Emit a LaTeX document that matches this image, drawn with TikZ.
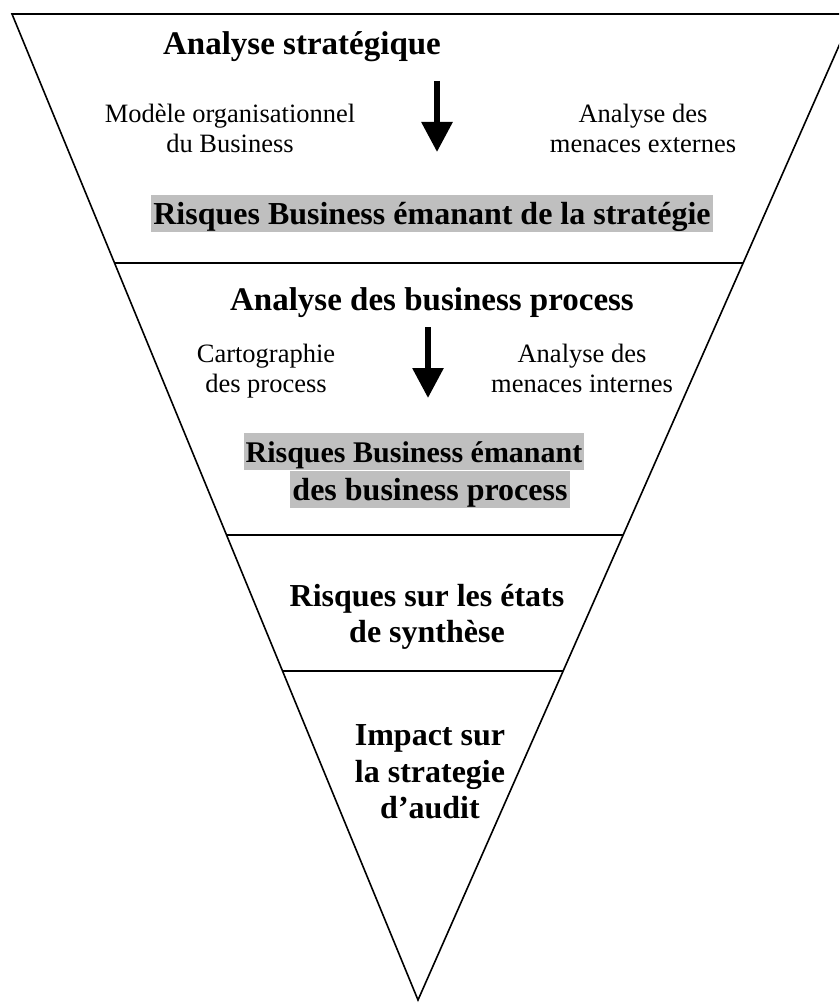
\documentclass[tikz,border=0pt]{standalone}
\usepackage{fontspec}
\setmainfont{Liberation Serif}
\usetikzlibrary{arrows.meta,calc}

\tikzset{
  titre/.style={font=\fontsize{32}{36.5}\selectfont\bfseries, align=center, inner sep=0pt},
  entete/.style={titre, font=\fontsize{33}{37.5}\selectfont\bfseries, anchor=base},
  texte/.style={font=\fontsize{26.5}{30}\selectfont, align=center, inner sep=0pt},
  surligne/.style={titre, fill=black!25, text height=28.5pt, text depth=7pt, inner xsep=2pt, inner ysep=0.8pt},
  trait/.style={line width=1.6pt},
  fleche/.style={line width=6pt, -{Triangle[width=30pt,length=30pt]}},
}

\begin{document}
\begin{tikzpicture}[x=1pt,y=-1pt]
    \useasboundingbox (0,0) rectangle (839,1003);
    \clip (0,0) rectangle (839,1003);
    % entonnoir
    \coordinate (hg) at (12,14);
    \coordinate (hd) at (853,14);
    \coordinate (pointe) at (418,1000);
    \draw[trait, line join=miter] (hg) -- (hd) -- (pointe) -- cycle;
    \foreach \y in {263,535,671}
        \draw[trait] ($(hg)!{(\y-14)/986}!(pointe)$) -- ($(hd)!{(\y-14)/986}!(pointe)$);
    % niveau 1
    \node[entete] (strat) at (302,55) {Analyse stratégique};
    \node[texte] (modele) at (230,128) {Modèle organisationnel\\du Business};
    \node[texte] (menext) at (643,128) {Analyse des\\menaces externes};
    \draw[fleche] (437,81) -- (437,152);
    \node[surligne] (risq1) at (432,213.5) {Risques Business émanant de la stratégie};
    % niveau 2
    \node[entete] (process) at (432,310) {Analyse des business process};
    \node[texte] (carto) at (266,371) {Cartographie\\des process};
    \node[texte] (menint) at (582,368) {Analyse des\\menaces internes};
    \draw[fleche] (428,327) -- (428,398);
    \node[surligne, font=\fontsize{30}{34}\selectfont\bfseries] (risq2a) at (414,451.5) {Risques Business émanant};
    \node[surligne] (risq2b) at (430,489.5) {des business process};
    % niveau 3
    \node[titre] (etats) at (427,617) {Risques sur les états\\de synthèse};
    % niveau 4
    \node[titre] (impact) at (430,772) {Impact sur\\la strategie\\d’audit};
\end{tikzpicture}
\end{document}
